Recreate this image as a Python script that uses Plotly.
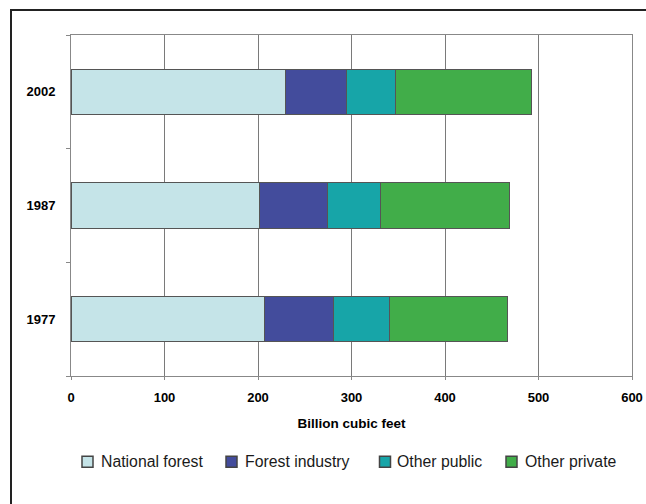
import plotly.graph_objects as go

years = ["1977", "1987", "2002"]
national_forest = [207, 202, 229]
forest_industry = [74, 72, 66]
other_public = [60, 57, 52]
other_private = [126, 138, 146]

series_names = ["National forest", "Forest industry", "Other public", "Other private"]
series_values = [national_forest, forest_industry, other_public, other_private]
colors = ["#C5E4E8", "#434C9C", "#17A5A8", "#41AD49"]

font_family = "Liberation Sans, Arial, sans-serif"

W, H = 646, 504
PL, PR, PT, PB = 71, 632, 35, 376  # plot area in page pixels


def px_x(x):
    return (x - PL) / (PR - PL)


def px_y(y):
    return (PB - y) / (PB - PT)


fig = go.Figure()
for name, vals, col in zip(series_names, series_values, colors):
    fig.add_trace(go.Bar(
        y=years, x=vals, name=name, orientation="h",
        marker=dict(color=col, line=dict(color="#555555", width=1)),
        width=0.4, showlegend=False,
    ))

# custom legend (swatch + label), positions in page pixels
legend_swatch_x = [82, 226, 379.5, 506]
legend_text_x = [99, 242.5, 395, 522.5]
legend_y = 461.7
shapes = []
annotations = []
for name, col, sx, tx in zip(series_names, colors, legend_swatch_x, legend_text_x):
    shapes.append(dict(type="rect", xref="paper", yref="paper",
                       x0=px_x(sx), x1=px_x(sx + 11), y0=px_y(legend_y - 5.5), y1=px_y(legend_y + 5.5),
                       fillcolor=col, line=dict(color="#444444", width=1.5)))
    annotations.append(dict(text=name, xref="paper", yref="paper", x=px_x(tx), y=px_y(legend_y),
                            xanchor="left", yanchor="middle", showarrow=False,
                            font=dict(size=15.8, color="#1a1a1a", family=font_family)))

# outer black frame (left and top edges)
shapes.append(dict(type="line", xref="paper", yref="paper", x0=px_x(11), x1=px_x(11),
                   y0=px_y(10), y1=px_y(520), line=dict(color="#222222", width=2)))
shapes.append(dict(type="line", xref="paper", yref="paper", x0=px_x(10), x1=px_x(660),
                   y0=px_y(10), y1=px_y(10), line=dict(color="#222222", width=2)))

fig.update_layout(
    barmode="stack",
    width=W, height=H,
    margin=dict(l=PL, r=W - PR, t=PT, b=H - PB, autoexpand=False),
    paper_bgcolor="white", plot_bgcolor="white",
    font=dict(family=font_family, size=13, color="black"),
    showlegend=False,
    xaxis=dict(range=[0, 600], dtick=100, showgrid=True, gridcolor="#7a7a7a", gridwidth=1,
               showline=True, linecolor="#888888", mirror=True, ticks="outside", ticklen=3,
               tickcolor="#888888", zeroline=False, automargin=False,
               tickfont=dict(size=13, weight="bold", family=font_family),
               ticklabelstandoff=6,
               title=dict(text="Billion cubic feet", font=dict(size=13.5, weight="bold"), standoff=14)),
    yaxis=dict(showgrid=False, showline=True, linecolor="#888888", mirror=True,
               ticks="outside", ticklen=4, tickcolor="#888888", tickson="boundaries",
               automargin=False,
               tickfont=dict(size=13, weight="bold", family=font_family),
               ticklabelstandoff=12),
    shapes=shapes,
    annotations=annotations,
)

fig.write_html("out.html", config={"displayModeBar": False},
               post_script="document.body.style.margin='0';document.body.style.overflow='hidden';")
